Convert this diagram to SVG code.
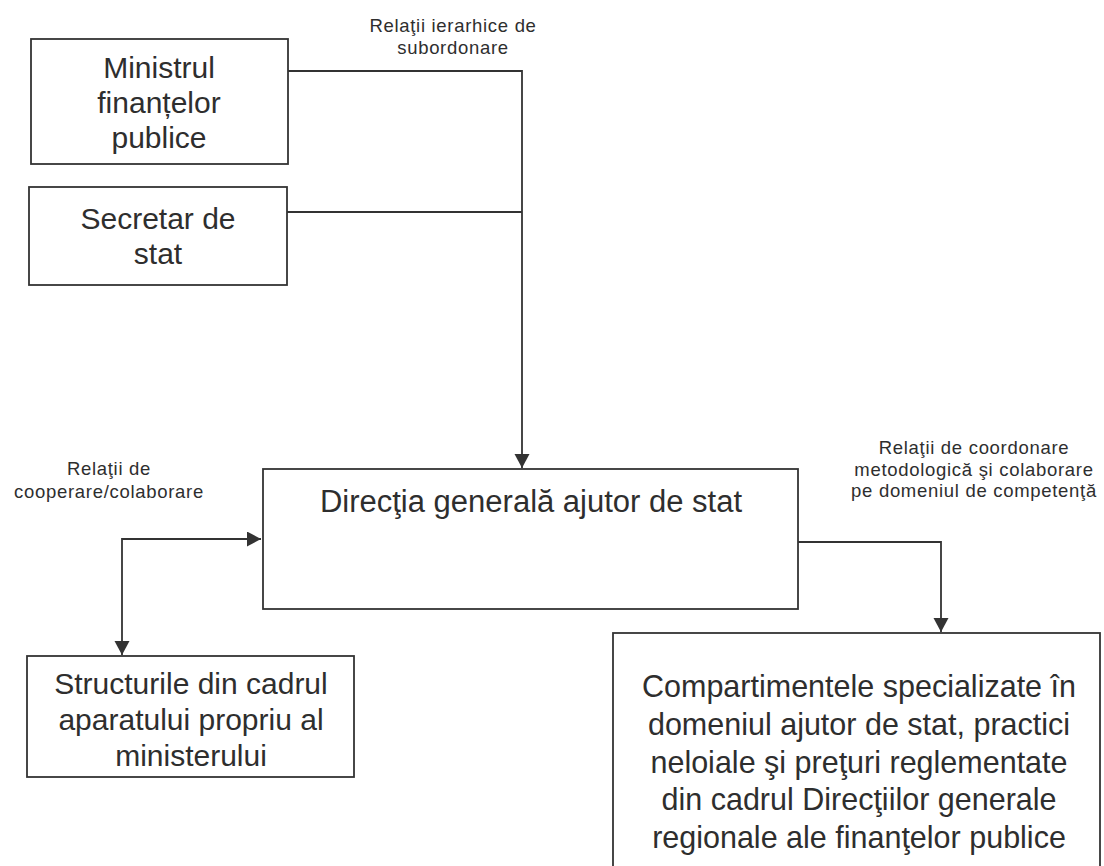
<svg xmlns="http://www.w3.org/2000/svg" width="1104" height="866" viewBox="0 0 1104 866">
<style>
.box{fill:#fff;stroke:#333;stroke-width:1.8}
.t{font-family:"Liberation Sans",Arial,sans-serif;font-size:30px;fill:#2e2e2e;text-anchor:middle}
.s{font-family:"Liberation Sans",Arial,sans-serif;font-size:18.5px;letter-spacing:0.7px;fill:#2e2e2e;text-anchor:middle}
.c{fill:none;stroke:#333;stroke-width:1.8}
</style>
<defs>
<marker id="arr" markerUnits="userSpaceOnUse" markerWidth="15" markerHeight="16" refX="14" refY="7.5" orient="auto-start-reverse">
<path d="M0,0 L14,7.5 L0,15 z" fill="#333"/>
</marker>
</defs>
<rect width="1104" height="866" fill="#fff"/>
<g id="connectors">
<path class="c" d="M288,71 H522 V468" marker-end="url(#arr)"/>
<path class="c" d="M287,212 H522"/>
<path class="c" d="M261,539 H122 V655" marker-start="url(#arr)" marker-end="url(#arr)"/>
<path class="c" d="M798,542 H941 V632" marker-end="url(#arr)"/>
</g>
<g id="label-ierarhice">
<text class="s" x="453" y="32">Relaţii ierarhice de</text>
<text class="s" x="453" y="54">subordonare</text>
</g>
<g id="label-cooperare">
<text class="s" x="109" y="475">Relaţii de</text>
<text class="s" x="109" y="498">cooperare/colaborare</text>
</g>
<g id="label-coordonare">
<text class="s" x="974" y="454">Relaţii de coordonare</text>
<text class="s" x="974" y="475.5">metodologică şi colaborare</text>
<text class="s" x="974" y="497">pe domeniul de competenţă</text>
</g>
<g id="node-ministrul">
<rect class="box" x="31" y="39" width="257" height="125"/>
<text class="t" x="159" y="78">Ministrul</text>
<text class="t" x="159" y="113">finanțelor</text>
<text class="t" x="159" y="148">publice</text>
</g>
<g id="node-secretar">
<rect class="box" x="29" y="187" width="258" height="98"/>
<text class="t" x="158" y="229">Secretar de</text>
<text class="t" x="158" y="264">stat</text>
</g>
<g id="node-directia">
<rect class="box" x="263" y="469" width="535" height="140"/>
<text class="t" x="531" y="512" style="font-size:31px">Direcţia generală ajutor de stat</text>
</g>
<g id="node-structurile">
<rect class="box" x="27" y="656" width="327" height="121"/>
<text class="t" x="191" y="694">Structurile din cadrul</text>
<text class="t" x="191" y="730">aparatului propriu al</text>
<text class="t" x="191" y="766">ministerului</text>
</g>
<g id="node-compartimentele">
<rect class="box" x="613" y="633" width="487" height="280"/>
<text class="t" x="859" y="697" style="font-size:30.5px">Compartimentele specializate în</text>
<text class="t" x="859" y="735" style="font-size:30.5px">domeniul ajutor de stat, practici</text>
<text class="t" x="859" y="773" style="font-size:30.5px">neloiale şi preţuri reglementate</text>
<text class="t" x="859" y="810" style="font-size:30.5px">din cadrul Direcţiilor generale</text>
<text class="t" x="859" y="848" style="font-size:30.5px">regionale ale finanţelor publice</text>
</g>
</svg>
